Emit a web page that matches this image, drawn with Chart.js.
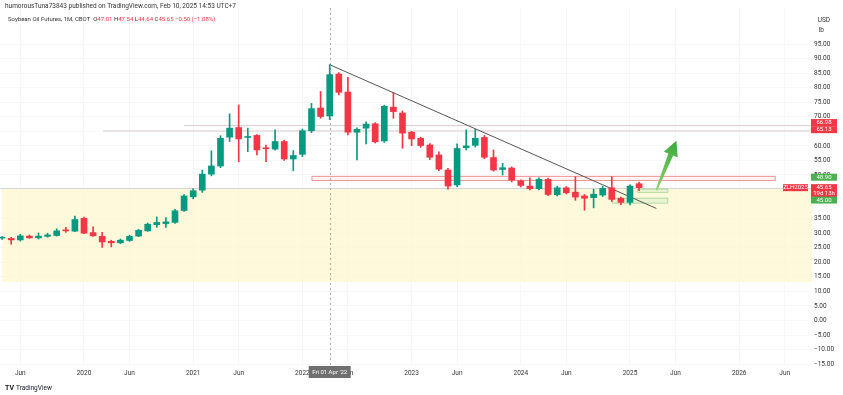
<!DOCTYPE html>
<html>
<head>
<meta charset="utf-8">
<script src="https://cdn.jsdelivr.net/npm/chart.js@4/dist/chart.umd.min.js"></script>
<style>
html, body { margin: 0; padding: 0; background: #fff; }
canvas { display: block; }
</style>
</head>
<body>
<canvas id="myChart" width="843" height="395"></canvas>
<script>
// monthly candles, month 0 = Jan 2020
var months = [-9,-8,-7,-6,-5,-4,-3,-2,-1,0,1,2,3,4,5,6,7,8,9,10,11,12,13,14,15,16,17,18,19,20,21,22,23,24,25,26,27,28,29,30,31,32,33,34,35,36,37,38,39,40,41,42,43,44,45,46,47,48,49,50,51,52,53,54,55,56,57,58,59,60,61];
var opens  = [28.3,28.2,27.7,29.0,28.4,28.9,29.2,31.0,30.7,35.1,30.2,28.9,27.2,26.7,27.5,29.0,30.8,32.9,33.3,33.7,37.8,42.5,44.8,50.3,53.1,63.0,66.3,62.9,63.6,59.2,58.9,61.5,55.5,57.1,65.2,73.0,70.3,84.7,78.5,64.7,66.1,67.6,61.7,73.3,71.3,64.7,62.6,60.3,56.9,51.7,46.6,59.4,60.2,62.9,56.0,51.9,52.4,48.0,46.2,45.3,48.5,43.2,45.6,44.1,42.8,42.2,43.1,45.6,42.0,40.6,47.01];
var highs  = [28.8,28.6,29.6,29.4,30.1,30.0,31.5,32.0,35.9,35.5,32.2,30.3,27.6,28.0,29.3,31.3,33.5,35.6,35.4,38.2,43.3,45.3,51.7,58.3,63.5,71.0,74.1,66.1,63.9,60.3,65.5,62.0,58.4,65.8,74.6,78.7,87.9,85.2,83.6,66.2,68.3,68.0,74.0,78.4,72.0,65.0,63.0,60.8,58.0,52.3,60.7,65.5,65.7,63.6,58.6,54.0,52.8,48.3,49.0,49.0,48.9,46.2,46.0,49.4,43.3,45.1,46.1,49.4,42.4,46.6,47.54];
var lows   = [27.9,26.2,27.3,28.2,28.0,28.6,29.0,30.3,30.5,29.8,28.9,25.1,25.3,26.4,27.2,28.8,30.6,32.0,32.0,33.4,37.5,41.8,44.0,49.7,52.5,61.5,54.6,58.0,56.9,54.6,58.5,55.0,51.4,56.3,64.5,69.5,69.0,77.5,63.8,55.2,60.7,61.0,61.2,69.5,59.2,60.1,59.5,55.3,51.5,45.1,46.0,58.6,59.6,55.6,51.3,50.0,47.6,45.9,44.9,44.9,42.9,42.8,43.5,41.3,37.9,38.7,42.6,40.9,39.8,39.7,44.64];
var closes = [28.5,27.7,29.1,28.4,29.0,29.4,30.8,30.8,34.7,30.0,29.1,27.0,26.7,27.6,28.9,31.0,33.1,33.7,33.9,37.7,42.8,44.6,50.3,53.1,62.6,66.1,62.4,63.2,58.6,59.0,61.5,55.5,56.7,65.2,72.8,70.1,84.5,78.4,64.7,65.7,67.5,61.4,73.6,71.8,64.4,62.4,60.1,56.1,52.0,46.2,59.1,60.0,62.6,56.1,51.7,52.5,48.3,46.4,45.3,48.5,43.3,45.6,43.9,42.4,42.0,43.4,45.4,41.6,40.6,46.2,45.65];

var xTickValues = [-7,0,5,12,17,24,29,36,41,48,53,60,65,72,77];
var xTickLabels = ['Jun','2020','Jun','2021','Jun','2022','Jun','2023','Jun','2024','Jun','2025','Jun','2026','Jun'];
var yTickValues = [95,90,85,80,75,70,65,60,55,50,35,30,25,20,15,10,5,0,-5,-10,-15];

// drawings on the chart (month index, price)
var trendStart = [27, 87.9];
var trendEnd = [62.9, 38.5];
var levelA = [11.0, 66.98];
var levelB = [2.1, 65.13];
var zoneYellow = [13.2, 45.5];
var boxRed = [25.0, 75.9, 48.3, 49.7];
var boxGreen1 = [60.8, 64.1, 44.2, 45.3];
var boxGreen2 = [58.0, 64.1, 40.5, 42.2];
var arrowFrom = [62.9, 44.8];
var arrowTo = [65.1, 61.8];
var crossMonth = 27;
var lastPrice = 45.65;

var UP = '#089981';
var DOWN = '#f23645';
var FONT = 'Roboto, "Liberation Sans", sans-serif';

function candleColors(){
  var c = [];
  for (var i = 0; i < months.length; i++) {
    c.push(closes[i] >= opens[i] ? UP : DOWN);
  }
  return c;
}

function bodyData(){
  var d = [];
  for (var i = 0; i < months.length; i++) {
    d.push({x: months[i], y: [opens[i], closes[i]]});
  }
  return d;
}

function wickData(){
  var d = [];
  for (var i = 0; i < months.length; i++) {
    d.push({x: months[i], y: [lows[i], highs[i]]});
  }
  return d;
}

function rectPx(chart, m1, m2, v1, v2){
  var x = chart.scales.x, y = chart.scales.y;
  var a = x.getPixelForValue(m1), b = x.getPixelForValue(m2);
  var t = y.getPixelForValue(v2), u = y.getPixelForValue(v1);
  return [a, t, b - a, u - t];
}

function drawTag(ctx, x, yc, w, text, bg){
  ctx.fillStyle = bg;
  ctx.fillRect(x, yc - 3.5, w, 7);
  ctx.fillStyle = '#fff';
  ctx.textAlign = 'center';
  ctx.textBaseline = 'middle';
  ctx.fillText(text, x + w / 2, yc + 0.3);
}

var underlay = {
  id: 'underlay',
  beforeDatasetsDraw: function(chart){
    var ctx = chart.ctx, area = chart.chartArea;
    var x = chart.scales.x, y = chart.scales.y;
    ctx.save();
    ctx.beginPath();
    ctx.rect(area.left, area.top, area.right - area.left, area.bottom - area.top);
    ctx.clip();

    // yellow zone
    var yt = y.getPixelForValue(zoneYellow[1]);
    var yb = y.getPixelForValue(zoneYellow[0]);
    ctx.fillStyle = 'rgba(255,247,205,0.7)';
    ctx.fillRect(area.left + 2, yt, area.right - area.left - 2, yb - yt);

    // last price line
    var py = Math.round(y.getPixelForValue(lastPrice)) + 0.5;
    ctx.strokeStyle = 'rgba(185,185,205,0.6)';
    ctx.lineWidth = 1;
    ctx.beginPath();
    ctx.moveTo(area.left, py);
    ctx.lineTo(area.right, py);
    ctx.stroke();

    // red box
    var r = rectPx(chart, boxRed[0], boxRed[1], boxRed[2], boxRed[3]);
    ctx.fillStyle = 'rgba(255,225,225,0.3)';
    ctx.fillRect(r[0], r[1], r[2], r[3]);
    ctx.strokeStyle = 'rgba(235,120,120,0.8)';
    ctx.strokeRect(r[0] + 0.5, r[1] + 0.5, r[2], r[3]);

    // green boxes
    [boxGreen1, boxGreen2].forEach(function(b){
      var g = rectPx(chart, b[0], b[1], b[2], b[3]);
      ctx.fillStyle = 'rgba(205,235,195,0.4)';
      ctx.fillRect(g[0], g[1], g[2], g[3]);
      ctx.strokeStyle = 'rgba(150,205,140,0.75)';
      ctx.strokeRect(g[0] + 0.5, g[1] + 0.5, g[2], g[3]);
    });

    // crosshair
    var cx = Math.round(x.getPixelForValue(crossMonth)) + 0.5;
    ctx.strokeStyle = '#a8a8a8';
    ctx.setLineDash([2, 3]);
    ctx.beginPath();
    ctx.moveTo(cx, area.top);
    ctx.lineTo(cx, area.bottom);
    ctx.stroke();
    ctx.restore();
  }
};

var overlay = {
  id: 'overlay',
  afterDraw: function(chart){
    var ctx = chart.ctx, area = chart.chartArea;
    var x = chart.scales.x, y = chart.scales.y;
    ctx.save();

    // green arrow
    var bx = x.getPixelForValue(arrowFrom[0]), by = y.getPixelForValue(arrowFrom[1]);
    var tx = x.getPixelForValue(arrowTo[0]), ty = y.getPixelForValue(arrowTo[1]);
    var dx = tx - bx, dy = ty - by, len = Math.sqrt(dx * dx + dy * dy);
    dx /= len; dy /= len;
    var nx = -dy, ny = dx;
    var hx = tx - dx * 15, hy = ty - dy * 15;
    var grad = ctx.createLinearGradient(bx, by, tx, ty);
    grad.addColorStop(0, '#8fd16f');
    grad.addColorStop(1, '#3aa83a');
    ctx.fillStyle = grad;
    ctx.beginPath();
    ctx.moveTo(bx + nx * 0.8, by + ny * 0.8);
    ctx.lineTo(hx + nx * 2.6, hy + ny * 2.6);
    ctx.lineTo(hx + nx * 7.5, hy + ny * 7.5);
    ctx.lineTo(tx, ty);
    ctx.lineTo(hx - nx * 7.5, hy - ny * 7.5);
    ctx.lineTo(hx - nx * 2.6, hy - ny * 2.6);
    ctx.lineTo(bx - nx * 0.8, by - ny * 0.8);
    ctx.closePath();
    ctx.fill();

    // price tags
    ctx.font = '6px ' + FONT;
    var ax = area.right - 1;
    drawTag(ctx, ax, y.getPixelForValue(levelA[1]) - 3, 26, '66.98', DOWN);
    drawTag(ctx, ax, y.getPixelForValue(levelB[1]) - 1.3, 26, '65.13', DOWN);
    drawTag(ctx, ax, y.getPixelForValue(48.90) - 1, 26, '48.90', '#4caf50');
    var ly = y.getPixelForValue(lastPrice);
    ctx.fillStyle = DOWN;
    ctx.fillRect(ax, ly - 3.5, 26, 13);
    ctx.fillStyle = '#fff';
    ctx.textAlign = 'center';
    ctx.textBaseline = 'middle';
    ctx.fillText('45.65', ax + 13, ly + 0.3);
    ctx.fillText('19d 13h', ax + 13, ly + 6.3);
    drawTag(ctx, ax - 28, ly, 25, 'ZLH2025', DOWN);
    drawTag(ctx, ax, y.getPixelForValue(45.00) + 10.5, 26, '45.00', '#4caf50');

    // currency label
    ctx.fillStyle = '#333';
    ctx.font = '6.5px ' + FONT;
    ctx.textAlign = 'right';
    ctx.textBaseline = 'middle';
    ctx.fillText('USD', 830, 20);
    ctx.fillText('lb', 824, 30);

    // crosshair date label
    var cx = x.getPixelForValue(crossMonth);
    ctx.fillStyle = '#6f6f6f';
    ctx.fillRect(cx - 21, area.bottom, 42, 12);
    ctx.fillStyle = '#fff';
    ctx.textAlign = 'center';
    ctx.font = '6px ' + FONT;
    ctx.fillText("Fri 01 Apr '22", cx, area.bottom + 6);

    // header
    ctx.textAlign = 'left';
    ctx.fillStyle = '#333';
    ctx.font = '6.5px ' + FONT;
    ctx.fillText('humorousTuna73843 published on TradingView.com, Feb 10, 2025 14:53 UTC+7', 5, 6);
    ctx.font = '6px ' + FONT;
    var hx0 = 8, hy0 = 19;
    var parts = [['Soybean Oil Futures, 1M, CBOT  ', '#333'], ['O', '#333'], ['47.01 ', DOWN], ['H', '#333'], ['47.54 ', DOWN],
                 ['L', '#333'], ['44.64 ', DOWN], ['C', '#333'], ['45.65 ', DOWN], ['\u22120.50 (\u22121.08%)', DOWN]];
    parts.forEach(function(p){
      ctx.fillStyle = p[1];
      ctx.fillText(p[0], hx0, hy0);
      hx0 += ctx.measureText(p[0]).width;
    });

    // logo
    ctx.fillStyle = '#131722';
    ctx.font = 'bold 7px ' + FONT;
    ctx.fillText('TV', 5, 388);
    ctx.font = '6.5px ' + FONT;
    ctx.fillText('TradingView', 16, 388);
    ctx.restore();
  }
};

function printChart(){
  var colors = candleColors();
  var ctx = document.getElementById('myChart').getContext('2d');
  var chart = new Chart(ctx, {
    type: 'bar',
    data: {
      datasets: [{
        label: 'body',
        data: bodyData(),
        backgroundColor: colors,
        barThickness: 6,
        minBarLength: 1,
        grouped: false,
        order: 0
      }, {
        label: 'wick',
        data: wickData(),
        backgroundColor: colors,
        barThickness: 1,
        grouped: false,
        order: 1
      }, {
        type: 'line',
        label: 'trend',
        data: [{x: trendStart[0], y: trendStart[1]}, {x: trendEnd[0], y: trendEnd[1]}],
        borderColor: '#555',
        borderWidth: 1,
        pointRadius: 0,
        order: 2
      }, {
        type: 'line',
        label: 'levelA',
        data: [{x: levelA[0], y: levelA[1]}, {x: 80, y: levelA[1]}],
        borderColor: 'rgba(215,200,200,0.9)',
        borderWidth: 1,
        pointRadius: 0,
        order: 3
      }, {
        type: 'line',
        label: 'levelB',
        data: [{x: levelB[0], y: levelB[1]}, {x: 80, y: levelB[1]}],
        borderColor: 'rgba(215,200,200,0.9)',
        borderWidth: 1,
        pointRadius: 0,
        order: 3
      }]
    },
    options: {
      responsive: false,
      animation: false,
      layout: { padding: { left: 0, right: 0, top: 8, bottom: 0 } },
      plugins: { legend: { display: false }, tooltip: { enabled: false } },
      scales: {
        x: {
          type: 'linear',
          min: -9.23,
          max: 80.0,
          offset: false,
          border: { display: false },
          grid: { color: '#f7f7f7', drawTicks: false, offset: false },
          ticks: {
            autoSkip: false,
            maxRotation: 0,
            padding: 3,
            color: '#333',
            font: { family: FONT, size: 6.5 },
            callback: function(v){
              var i = xTickValues.indexOf(v);
              return i >= 0 ? xTickLabels[i] : '';
            }
          },
          afterBuildTicks: function(s){
            s.ticks = xTickValues.map(function(v){ return {value: v}; });
          },
          afterFit: function(s){ s.height = 29; }
        },
        y: {
          position: 'right',
          min: -15.64,
          max: 107.39,
          border: { display: false },
          grid: { color: '#f7f7f7', drawTicks: false },
          ticks: {
            padding: 2,
            crossAlign: 'near',
            color: '#333',
            font: { family: FONT, size: 6.5 },
            callback: function(v){
              return (v < 0 ? '\u2212' + Math.abs(v).toFixed(2) : v.toFixed(2));
            }
          },
          afterBuildTicks: function(s){
            s.ticks = yTickValues.map(function(v){ return {value: v}; });
          },
          afterFit: function(s){ s.width = 31; }
        }
      }
    },
    plugins: [underlay, overlay]
  });
}
printChart();
</script>
</body>
</html>
